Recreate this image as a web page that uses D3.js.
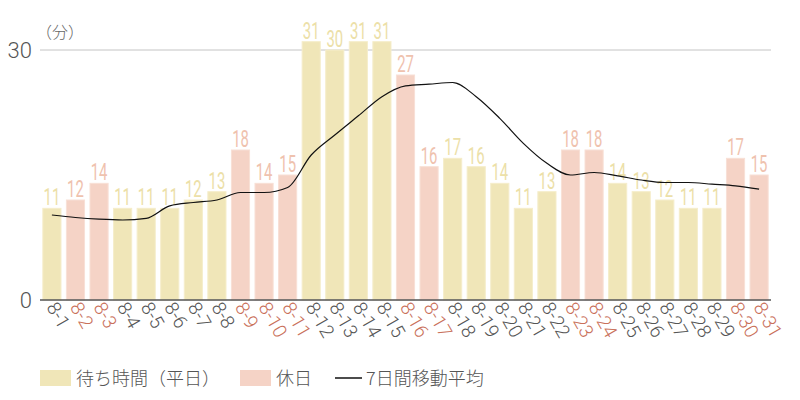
<!DOCTYPE html>
<html>
<head>
<meta charset="utf-8">
<script src="https://cdn.jsdelivr.net/npm/d3@7"></script>
<style>
  body { margin: 0; background: #fff; }
  svg { font-family: "Noto Sans CJK JP", "Noto Sans", sans-serif; }
</style>
</head>
<body>
<div id="chart"></div>
<script>
// data
var days = d3.range(1, 32).map(d => "8-" + d)
var waitTimes = [11, 12, 14, 11, 11, 11, 12, 13, 18, 14, 15, 31, 30, 31, 31, 27, 16, 17, 16, 14, 11, 13, 18, 18, 14, 13, 12, 11, 11, 17, 15]
var holidays = ["8-2", "8-3", "8-9", "8-10", "8-11", "8-16", "8-17", "8-23", "8-24", "8-30", "8-31"]
var movingAvg = [10.2, 9.9, 9.7, 9.6, 9.8, 11.3, 11.7, 12.0, 12.9, 12.9, 13.5, 17.4, 19.8, 22.1, 24.4, 25.7, 25.9, 26.1, 24.4, 21.8, 18.8, 16.4, 15.0, 15.3, 14.9, 14.4, 14.1, 14.1, 13.9, 13.7, 13.3]
var yTicks = [0, 30]

var width = 800, height = 400
var margin = {top: 50, right: 29, bottom: 100, left: 40}

var svg = d3.select("#chart").append("svg")
    .attr("width", width)
    .attr("height", height)

var x = d3.scaleBand()
    .domain(days)
    .range([margin.left, width - margin.right])
    .paddingInner(0.23)
    .paddingOuter(0.12)

var y = d3.scaleLinear()
    .domain([0, 30])
    .range([height - margin.bottom, margin.top])

var isHoliday = d => holidays.includes(d)

//grid line at 30
svg.append("line")
    .attr("x1", margin.left).attr("x2", width - margin.right)
    .attr("y1", y(30)).attr("y2", y(30))
    .attr("stroke", "#c4c4c4")

//y labels
svg.selectAll(".ylab")
    .data(yTicks)
    .enter()
    .append("text")
    .attr("x", 32)
    .attr("y", d => y(d) + 8)
    .attr("text-anchor", "end")
    .attr("font-family", "Roboto, sans-serif")
    .attr("font-weight", 300)
    .attr("font-size", "22px")
    .attr("fill", "#555")
    .text(d => d)

svg.append("text")
    .attr("x", 36).attr("y", 38)
    .attr("font-size", "16px")
    .attr("font-weight", 300)
    .attr("fill", "#666")
    .text("（分）")

//bars
svg.selectAll(".bar")
    .data(waitTimes)
    .enter()
    .append("rect")
    .attr("x", (d, i) => x(days[i]))
    .attr("y", d => y(d))
    .attr("width", x.bandwidth())
    .attr("height", d => y(0) - y(d))
    .attr("fill", (d, i) => isHoliday(days[i]) ? "#f5d3c6" : "#f0e6b8")
    .attr("stroke", (d, i) => isHoliday(days[i]) ? "#f8e0d6" : "#f5edcb")
    .attr("stroke-width", 1)

//value labels (condensed look)
svg.selectAll(".val")
    .data(waitTimes)
    .enter()
    .append("text")
    .attr("transform", (d, i) => `translate(${x(days[i]) + x.bandwidth() / 2},${y(d) - 3}) scale(0.62,1)`)
    .attr("text-anchor", "middle")
    .attr("font-family", "Roboto, sans-serif")
    .attr("font-weight", 400)
    .attr("font-size", "24px")
    .attr("fill", (d, i) => isHoliday(days[i]) ? "#efc2ae" : "#ece0a8")
    .text(d => d)

//moving average
var line = d3.line()
    .x((d, i) => x(days[i]) + x.bandwidth() / 2)
    .y(d => y(d))
    .curve(d3.curveMonotoneX)

svg.append("path")
    .datum(movingAvg)
    .attr("d", line)
    .attr("fill", "none")
    .attr("stroke", "#111")
    .attr("stroke-width", 1.2)

//baseline
svg.append("line")
    .attr("x1", margin.left).attr("x2", width - margin.right)
    .attr("y1", y(0)).attr("y2", y(0))
    .attr("stroke", "#555")
    .attr("stroke-width", 1.5)

//x labels rotated
svg.selectAll(".xlab")
    .data(days)
    .enter()
    .append("text")
    .attr("transform", d => `translate(${x(d) + x.bandwidth() / 2 - 6},${y(0) + 7}) rotate(60)`)
    .attr("font-family", "Roboto, sans-serif")
    .attr("font-weight", 300)
    .attr("font-size", "19px")
    .attr("fill", d => isHoliday(d) ? "#c9705a" : "#555")
    .text(d => d)

//legend
var lg = svg.append("g").attr("transform", "translate(40,370)")
lg.append("rect").attr("x", 0).attr("y", 0).attr("width", 31).attr("height", 16).attr("fill", "#f0e6b8")
lg.append("text").attr("x", 36).attr("y", 15).attr("font-size", "18px").attr("font-weight", 300).attr("fill", "#555").text("待ち時間（平日）")
lg.append("rect").attr("x", 200).attr("y", 0).attr("width", 31).attr("height", 16).attr("fill", "#f5d3c6")
lg.append("text").attr("x", 236).attr("y", 15).attr("font-size", "18px").attr("font-weight", 300).attr("fill", "#555").text("休日")
lg.append("line").attr("x1", 295).attr("x2", 322).attr("y1", 8).attr("y2", 8).attr("stroke", "#111").attr("stroke-width", 1.5)
lg.append("text").attr("x", 326).attr("y", 15).attr("font-size", "18px").attr("font-weight", 300).attr("fill", "#555").text("7日間移動平均")
</script>
</body>
</html>
